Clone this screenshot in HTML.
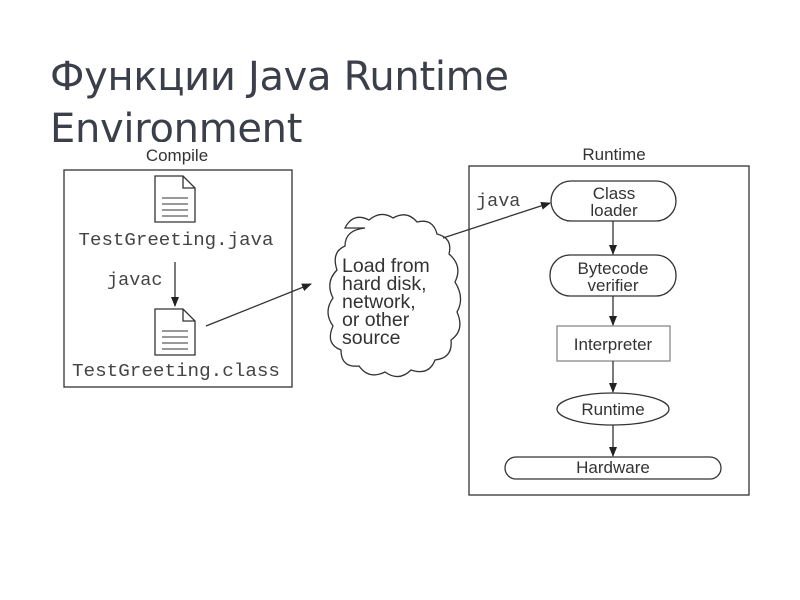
<!DOCTYPE html>
<html><head><meta charset="utf-8"><style>
body{margin:0;background:#fff;width:800px;height:600px;overflow:hidden;position:relative}
.t{position:absolute;left:50px;font-family:"DejaVu Sans","Liberation Sans",sans-serif;font-size:40px;color:#3b3f4a;white-space:nowrap;letter-spacing:-0.3px}
</style></head><body>
<div class="t" style="top:54px">Функции Java Runtime</div>
<div style="position:absolute;left:0;top:100px;width:800px;height:42px;overflow:hidden"><div class="t" style="top:6px">Environment</div></div>
<svg width="800" height="600" style="position:absolute;left:0;top:0" font-family="Liberation Sans, sans-serif">
<defs><marker id="a" markerWidth="10" markerHeight="8" refX="9" refY="4" orient="auto" markerUnits="userSpaceOnUse"><path d="M0,0 L10,4 L0,8z" fill="#222"/></marker></defs>
<g stroke="#333" fill="none" stroke-width="1.3">
<rect x="64" y="170" width="228" height="217"/>
<rect x="469" y="166" width="280" height="329"/>
<path d="M155,176 H183 L195,188 V222 H155Z M183,176 V188 H195"/>
<path d="M162,198H188M162,204H188M162,210H188M162,216H188" stroke-width="1"/>
<path d="M155,309 H183 L195,321 V355 H155Z M183,309 V321 H195"/>
<path d="M162,331H188M162,337H188M162,343H188M162,349H188" stroke-width="1"/>
<line x1="175" y1="262" x2="175" y2="306" marker-end="url(#a)"/>
<line x1="206" y1="326" x2="311" y2="284" marker-end="url(#a)"/>
<line x1="443" y1="238" x2="550" y2="203" marker-end="url(#a)"/>
<path d="M345,228 q8,-16 24,-8 q12,-10 24,-2 q14,-8 24,4 q16,-4 20,12 q16,4 12,20 q14,12 6,28 q10,16 2,30 q8,18 -6,28 q2,18 -16,20 q-6,16 -24,10 q-12,12 -26,2 q-16,8 -26,-6 q-18,2 -18,-16 q-16,-6 -8,-24 q-10,-14 0,-28 q-8,-16 4,-28 q-6,-18 8,-24 q0,-16 20,-18z"/>
<rect x="551" y="181" width="125" height="40" rx="20"/>
<rect x="550" y="255" width="126" height="41" rx="20"/>
<rect x="557" y="326" width="113" height="35" stroke="#888"/>
<ellipse cx="613" cy="409" rx="56" ry="16"/>
<rect x="505" y="457" width="216" height="22" rx="11"/>
<line x1="613" y1="221" x2="613" y2="254" marker-end="url(#a)"/>
<line x1="613" y1="296" x2="613" y2="325" marker-end="url(#a)"/>
<line x1="613" y1="361" x2="613" y2="392" marker-end="url(#a)"/>
<line x1="613" y1="425" x2="613" y2="456" marker-end="url(#a)"/>
</g>
<g fill="#333" font-size="17" text-anchor="middle">
<text x="177" y="161">Compile</text>
<text x="614" y="160">Runtime</text>
<text x="614" y="199">Class</text><text x="614" y="216">loader</text>
<text x="613" y="274">Bytecode</text><text x="613" y="291">verifier</text>
<text x="613" y="350">Interpreter</text>
<text x="613" y="415">Runtime</text>
<text x="613" y="473">Hardware</text>
</g>
<g fill="#333" font-size="19.5">
<text x="342" y="272">Load from</text><text x="342" y="290">hard disk,</text><text x="342" y="308">network,</text><text x="342" y="326">or other</text><text x="342" y="344">source</text>
</g>
<g fill="#444" font-family="Liberation Mono, monospace" font-size="18.5">
<text x="176" y="245" text-anchor="middle" textLength="195" lengthAdjust="spacingAndGlyphs">TestGreeting.java</text>
<text x="176" y="376" text-anchor="middle" textLength="208" lengthAdjust="spacingAndGlyphs">TestGreeting.class</text>
<text x="107" y="285">javac</text>
<text x="476" y="206">java</text>
</g>
</svg>
</body></html>
